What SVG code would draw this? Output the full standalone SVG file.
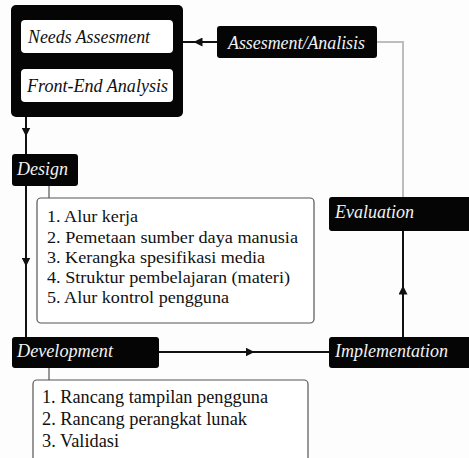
<svg xmlns="http://www.w3.org/2000/svg" width="469" height="458" viewBox="0 0 469 458">
<defs>
<marker id="ah" viewBox="0 0 10 10" refX="5" refY="5" markerWidth="9" markerHeight="9" markerUnits="userSpaceOnUse" orient="auto">
<path d="M0,0 L10,5 L0,10 Z" fill="#111"/>
</marker>
<style>
.blk{fill:#050505;}
.wht{fill:#fff;}
.lt{font-style:italic;font-size:18px;fill:#f2f2f2;}
.dt{font-style:italic;font-size:18px;fill:#111;}
.lst{font-size:17px;fill:#111;}
.lst2{font-size:18px;fill:#111;}
.box{fill:#fff;stroke:#555;stroke-width:1.2;}
.ln{fill:none;stroke:#111;stroke-width:2;}
.thin{fill:none;stroke:#555;stroke-width:1.2;}
.gray{fill:none;stroke:#bdbdbd;stroke-width:2;}
</style>
</defs>
<rect width="469" height="458" fill="#fdfdfd"/>
<g id="connectors">
<path class="ln" d="M217,42 L198,42 L183,42" marker-mid="url(#ah)"/>
<path class="gray" d="M377,42 L403,42 L403,197"/>
<path class="ln" d="M26,117 L26,132 L26,154" marker-mid="url(#ah)"/>
<path class="ln" d="M26,186 L26,262 L26,337" marker-mid="url(#ah)"/>
<path class="thin" d="M49,186 L49,198"/>
<path class="thin" d="M49,368 L49,380"/>
<path class="ln" d="M159,352 L250,352 L329,352" marker-mid="url(#ah)"/>
<path class="ln" d="M403,337 L403,290 L403,231" marker-mid="url(#ah)"/>
</g>
<g id="needs-frontend">
<rect class="blk" x="11" y="5" width="172" height="112" rx="5"/>
<rect class="wht" x="21" y="20" width="152" height="33" rx="4"/>
<text class="dt" font-family="Liberation Serif" x="28" y="43" textLength="122" lengthAdjust="spacingAndGlyphs">Needs Assesment</text>
<rect class="wht" x="21" y="69" width="152" height="33" rx="4"/>
<text class="dt" font-family="Liberation Serif" x="27" y="92" textLength="141" lengthAdjust="spacingAndGlyphs">Front-End Analysis</text>
</g>
<g id="assesment">
<rect class="blk" x="217" y="26" width="160" height="32" rx="3"/>
<text class="lt" font-family="Liberation Serif" x="228" y="49" textLength="137" lengthAdjust="spacingAndGlyphs">Assesment/Analisis</text>
</g>
<g id="design">
<rect class="blk" x="12" y="154" width="66" height="32" rx="3"/>
<text class="lt" font-family="Liberation Serif" x="17" y="175" textLength="51" lengthAdjust="spacingAndGlyphs">Design</text>
</g>
<g id="design-list">
<rect class="box" x="37" y="198" width="277" height="125" rx="4"/>
<text class="lst" font-family="Liberation Serif" x="47" y="222" textLength="91" lengthAdjust="spacingAndGlyphs">1. Alur kerja</text>
<text class="lst" font-family="Liberation Serif" x="47" y="243" textLength="251" lengthAdjust="spacingAndGlyphs">2. Pemetaan sumber daya manusia</text>
<text class="lst" font-family="Liberation Serif" x="47" y="263" textLength="218" lengthAdjust="spacingAndGlyphs">3. Kerangka spesifikasi media</text>
<text class="lst" font-family="Liberation Serif" x="47" y="283" textLength="243" lengthAdjust="spacingAndGlyphs">4. Struktur pembelajaran (materi)</text>
<text class="lst" font-family="Liberation Serif" x="47" y="303" textLength="182" lengthAdjust="spacingAndGlyphs">5. Alur kontrol pengguna</text>
</g>
<g id="evaluation">
<rect class="blk" x="329" y="197" width="150" height="34" rx="3"/>
<text class="lt" font-family="Liberation Serif" x="335" y="218" textLength="79" lengthAdjust="spacingAndGlyphs">Evaluation</text>
</g>
<g id="development">
<rect class="blk" x="12" y="337" width="147" height="31" rx="3"/>
<text class="lt" font-family="Liberation Serif" x="17" y="357" textLength="96" lengthAdjust="spacingAndGlyphs">Development</text>
</g>
<g id="implementation">
<rect class="blk" x="329" y="337" width="150" height="31" rx="3"/>
<text class="lt" font-family="Liberation Serif" x="335" y="357" textLength="113" lengthAdjust="spacingAndGlyphs">Implementation</text>
</g>
<g id="development-list">
<rect class="box" x="33" y="380" width="275" height="95" rx="4"/>
<text class="lst2" font-family="Liberation Serif" x="42" y="403" textLength="226" lengthAdjust="spacingAndGlyphs">1. Rancang tampilan pengguna</text>
<text class="lst2" font-family="Liberation Serif" x="42" y="425" textLength="205" lengthAdjust="spacingAndGlyphs">2. Rancang perangkat lunak</text>
<text class="lst2" font-family="Liberation Serif" x="42" y="447" textLength="77" lengthAdjust="spacingAndGlyphs">3. Validasi</text>
</g>
</svg>
